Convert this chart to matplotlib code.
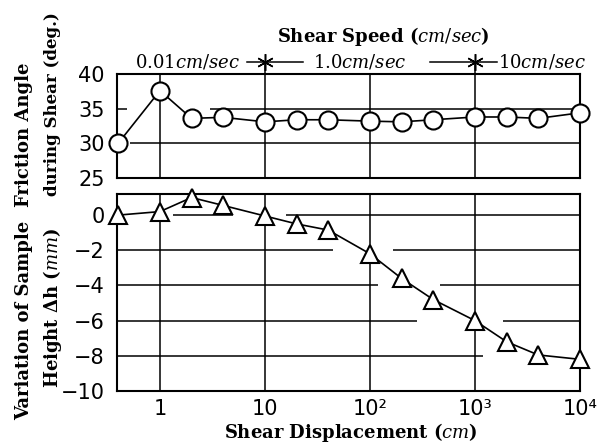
import matplotlib
matplotlib.use("Agg")
import matplotlib.pyplot as plt
import matplotlib.transforms as mtransforms

plt.rcParams['mathtext.fontset'] = 'dejavuserif'

# ---- data ----
disp = [0.4, 1, 2, 4, 10, 20, 40, 100, 200, 400, 1000, 2000, 4000, 10000]
friction = [30.0, 37.6, 33.6, 33.75, 33.1, 33.4, 33.4, 33.2, 33.1, 33.4, 33.8, 33.8, 33.6, 34.4]
height = [0.0, 0.2, 1.0, 0.55, -0.05, -0.5, -0.85, -2.2, -3.6, -4.8, -6.0, -7.2, -7.95, -8.2]
xticks = [1, 10, 100, 1000, 10000]
xticklabels = ['1', '10', '10²', '10³', '10⁴']
top_yticks = [25, 30, 35, 40]
bot_yticks = [0, -2, -4, -6, -8, -10]
speed_labels = ['0.01', '1.0', '10']

W, H = 601, 447
fig = plt.figure(figsize=(W / 100, H / 100), dpi=100)

def rect(x0, y0, x1, y1):
    return [x0 / W, 1 - y1 / H, (x1 - x0) / W, (y1 - y0) / H]

ax1 = fig.add_axes(rect(117, 74, 580, 178))
ax2 = fig.add_axes(rect(117, 194, 580, 391))

tickfont = dict(family=['DejaVu Sans'], size=15)
XL = (0.39, 10000)

for ax in (ax1, ax2):
    ax.set_xscale('log')
    ax.set_xlim(*XL)
    ax.set_xticks(xticks)
    ax.minorticks_off()
    ax.tick_params(length=0, pad=9)
    ax.tick_params(axis='x', pad=6)
    for s in ax.spines.values():
        s.set_linewidth(1.5)
    for xv in xticks[:-1]:
        ax.axvline(xv, color='black', lw=1.1, zorder=1)

ax1.set_xticklabels([])
ax2.set_xticklabels(xticklabels, **tickfont)

# top panel
ax1.set_ylim(25, 40)
ax1.set_yticks(top_yticks)
ax1.set_yticklabels([str(v) for v in top_yticks], **tickfont)
ax1.hlines(30, 0.52, XL[1], color='black', lw=1.1, zorder=1)
ax1.hlines(35, 3, XL[1], color='black', lw=1.1, zorder=1)
ax1.hlines(35, XL[0], 0.49, color='black', lw=1.1, zorder=1)
ax1.plot(disp, friction, color='black', lw=1.2, marker='o', ms=13,
         mfc='white', mec='black', mew=1.5, clip_on=False, zorder=3)

# bottom panel
ax2.set_ylim(-10, 1.2)
ax2.set_yticks(bot_yticks)
ax2.set_yticklabels(['0' if v == 0 else '\u2212' + str(-v) for v in bot_yticks], **tickfont)
segs = [(0, 1.33, 5), (0, 16, XL[1]), (-2, XL[0], 44.6), (-2, 166, XL[1]),
        (-4, XL[0], 120), (-4, 465, XL[1]), (-6, XL[0], 280), (-6, 1860, XL[1]),
        (-8, XL[0], 1200)]
for yv, a, b in segs:
    ax2.hlines(yv, a, b, color='black', lw=1.1, zorder=1)
ax2.plot(disp, height, color='black', lw=1.2, marker='^', ms=13,
         mfc='white', mec='black', mew=1.5, clip_on=False, zorder=3)

fig.text(351 / W, 1 - 433 / H, 'Shear Displacement ($\\mathit{cm}$)', fontfamily='DejaVu Serif',
         fontweight='bold', fontsize=13, ha='center', va='center')

# y labels (two columns)
lab = dict(fontfamily='DejaVu Serif', fontweight='bold',
           rotation=90, ha='center', va='center')
fig.text(24 / W, 1 - 135 / H, 'Friction Angle', fontsize=13, **lab)
fig.text(53 / W, 1 - 104 / H, 'during Shear (deg.)', fontsize=12, **lab)
fig.text(24 / W, 1 - 320 / H, 'Variation of Sample', fontsize=13, **lab)
fig.text(53 / W, 1 - 308 / H, 'Height \u0394h ($\\mathit{mm}$)', fontsize=13, **lab)

# shear speed annotation above top panel
tr = mtransforms.blended_transform_factory(ax1.transData, ax1.transAxes)
yrow = 1.115
fig.text(383 / W, 1 - 37 / H, 'Shear Speed ($\\mathit{cm/sec}$)', fontfamily='DejaVu Serif',
         fontweight='bold', fontsize=13, ha='center', va='center')
sp = dict(fontfamily='DejaVu Serif', fontsize=13, va='center', transform=tr, clip_on=False)
ax1.text(5.8, yrow, speed_labels[0] + '$\\mathit{cm/sec}$', ha='right', **sp)
ax1.text(80, yrow, speed_labels[1] + '$\\mathit{cm/sec}$', ha='center', **sp)
ax1.text(1650, yrow, speed_labels[2] + '$\\mathit{cm/sec}$', ha='left', **sp)
ax1.plot([6.7, 23], [yrow, yrow], color='black', lw=1.1, transform=tr, clip_on=False)
ax1.plot([372, 1620], [yrow, yrow], color='black', lw=1.1, transform=tr, clip_on=False)
for xv in (10, 1000):
    ax1.plot([xv, xv], [1.0, yrow], color='black', lw=1.1, transform=tr, clip_on=False)
    ax1.plot([xv], [yrow], marker=(6, 2, 0), ms=12, mew=1.1, color='black',
             transform=tr, clip_on=False)

fig.savefig('out.png', dpi=100)
